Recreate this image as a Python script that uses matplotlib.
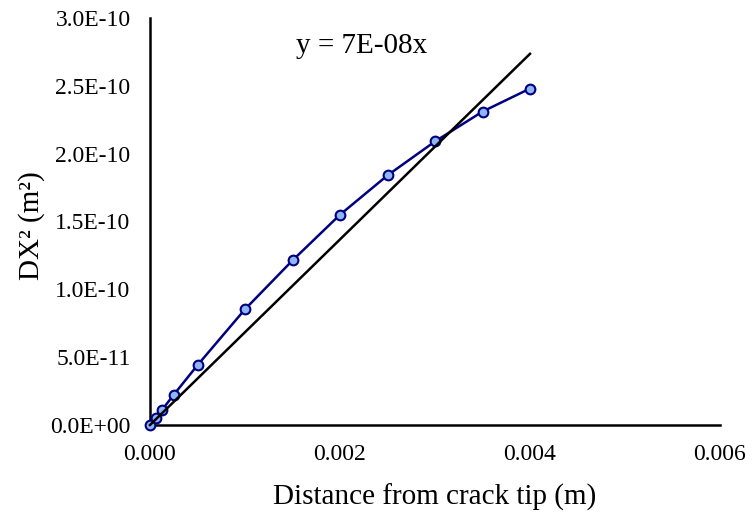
import numpy as np
import matplotlib
matplotlib.use("Agg")
import matplotlib.pyplot as plt
from matplotlib.ticker import FuncFormatter

plt.rcParams['font.family'] = ['Liberation Serif', 'DejaVu Serif']

# Data
distance = np.array([0.0, 0.0000625, 0.000125, 0.00025, 0.0005, 0.001, 0.0015,
                     0.002, 0.0025, 0.003, 0.0035, 0.004])
dx2 = np.array([0.0, 4.9e-12, 1.1e-11, 2.23e-11, 4.41e-11, 8.53e-11, 1.213e-10,
                1.55e-10, 1.84e-10, 2.09e-10, 2.31e-10, 2.48e-10])
x_ticks = [0.0, 0.002, 0.004, 0.006]
y_ticks = [0.0, 0.5e-10, 1.0e-10, 1.5e-10, 2.0e-10, 2.5e-10, 3.0e-10]
equation_text = "y = 7E-08x"

# trendline through origin (least squares)
slope = np.sum(distance * dx2) / np.sum(distance ** 2)
trend_x = np.array([0.0, distance.max()])
trend_y = slope * trend_x

fig = plt.figure(figsize=(7.55, 5.15), dpi=100)
ax = fig.add_axes([150/755, 1-425/515, 570/755, (425-18)/515])

ax.plot(distance, dx2, color='#000080', lw=1.8, marker='o', markersize=7,
        markerfacecolor='#8DB6F2', markeredgecolor='#000080', markeredgewidth=1.5,
        clip_on=False, zorder=3)
ax.plot(trend_x, trend_y, color='black', lw=1.8, zorder=4, clip_on=False)

ax.set_xlim(0, 0.006)
ax.set_ylim(0, 3.0e-10)
ax.set_xticks(x_ticks)
ax.set_yticks(y_ticks)
ax.xaxis.set_major_formatter(FuncFormatter(lambda v, p: f"{v:.3f}"))

def yfmt(v, p):
    if v == 0:
        return "0.0E+00"
    e = int(np.floor(np.log10(abs(v)) + 1e-9))
    m = v / 10**e
    return f"{m:.1f}E{e:+03d}" if e >= 0 else f"{m:.1f}E-{abs(e):02d}"
ax.yaxis.set_major_formatter(FuncFormatter(yfmt))

for s in ['top', 'right']:
    ax.spines[s].set_visible(False)
for s in ['left', 'bottom']:
    ax.spines[s].set_linewidth(1.8)
    ax.spines[s].set_color('black')

ax.tick_params(axis='x', length=0, pad=14, labelsize=17)
ax.tick_params(axis='y', length=0, pad=14, labelsize=17)

ax.set_xlabel("Distance from crack tip (m)", fontsize=21, labelpad=13)
ax.set_ylabel("DX² (m²)", fontsize=21)
ax.yaxis.set_label_coords(-0.185, 0.49)

ax.text(0.00154, 2.79e-10, equation_text, fontsize=21, ha='left', va='center')

fig.savefig("out.png", dpi=100)
